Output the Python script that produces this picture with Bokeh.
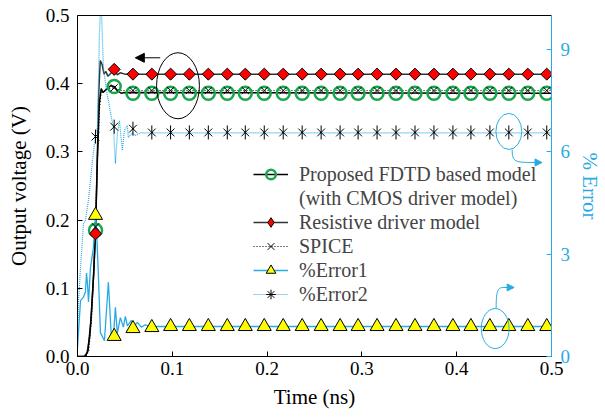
import math
from bokeh.plotting import figure
from bokeh.models import (Range1d, LinearAxis, FixedTicker, Legend, LegendItem,
                          Arrow, NormalHead, PrintfTickFormatter)
from bokeh.embed import file_html
from bokeh.resources import INLINE

# ---------------- data ----------------
x_ticks = [0.0, 0.1, 0.2, 0.3, 0.4, 0.5]
y_ticks = [0.0, 0.1, 0.2, 0.3, 0.4, 0.5]
err_ticks = [0, 3, 6, 9]

# marker sample times (ns)
t_mark = [0.019, 0.0387, 0.0585, 0.0784, 0.0982, 0.118, 0.138, 0.158, 0.177,
          0.197, 0.217, 0.237, 0.257, 0.277, 0.296, 0.316, 0.336, 0.356,
          0.376, 0.396, 0.415, 0.435, 0.455, 0.475, 0.495]

proposed_mark = [0.185, 0.396, 0.386, 0.386, 0.386, 0.386, 0.386, 0.386, 0.386,
                 0.386, 0.386, 0.386, 0.386, 0.386, 0.386, 0.386, 0.386, 0.386,
                 0.386, 0.386, 0.386, 0.386, 0.386, 0.386, 0.386]
resistive_mark = [0.18, 0.421, 0.414, 0.414, 0.414, 0.414, 0.414, 0.414, 0.414,
                  0.414, 0.414, 0.414, 0.414, 0.414, 0.414, 0.414, 0.414, 0.414,
                  0.414, 0.414, 0.414, 0.414, 0.414, 0.414, 0.414]
spice_mark = [0.19, 0.394, 0.39, 0.39, 0.39, 0.39, 0.39, 0.39, 0.39,
              0.39, 0.39, 0.39, 0.39, 0.39, 0.39, 0.39, 0.39, 0.39,
              0.39, 0.39, 0.39, 0.39, 0.39, 0.39, 0.39]
err1_mark = [4.14, 0.59, 0.82, 0.85, 0.88, 0.88, 0.88, 0.88, 0.88,
             0.88, 0.88, 0.88, 0.88, 0.88, 0.88, 0.88, 0.88, 0.88,
             0.88, 0.88, 0.88, 0.88, 0.88, 0.88, 0.88]
err2_mark = [6.45, 6.74, 6.68, 6.57, 6.57, 6.57, 6.57, 6.57, 6.57,
             6.57, 6.57, 6.57, 6.57, 6.57, 6.57, 6.57, 6.57, 6.57,
             6.57, 6.57, 6.57, 6.57, 6.57, 6.57, 6.57]

# continuous waveforms
t_res = [0, 0.007, 0.010, 0.013, 0.015, 0.017, 0.019, 0.021, 0.0225, 0.024,
         0.026, 0.028, 0.030, 0.032, 0.035, 0.0387, 0.042, 0.045, 0.05, 0.5]
v_res = [0, 0, 0.005, 0.03, 0.07, 0.12, 0.18, 0.30, 0.39, 0.434,
         0.428, 0.414, 0.418, 0.411, 0.415, 0.421, 0.413, 0.416, 0.414, 0.414]

t_prop = [0, 0.008, 0.011, 0.014, 0.017, 0.019, 0.021, 0.023, 0.025, 0.027,
          0.029, 0.032, 0.035, 0.0387, 0.042, 0.046, 0.05, 0.5]
v_prop = [0, 0, 0.008, 0.05, 0.12, 0.185, 0.29, 0.37, 0.393, 0.387,
          0.39, 0.394, 0.397, 0.396, 0.39, 0.386, 0.387, 0.386]

t_spice = [0, 0.009, 0.012, 0.015, 0.017, 0.019, 0.021, 0.023, 0.025, 0.028,
           0.032, 0.0387, 0.045, 0.5]
v_spice = [0, 0, 0.01, 0.06, 0.12, 0.19, 0.29, 0.36, 0.39, 0.388,
           0.393, 0.394, 0.39, 0.39]

t_err1 = [0, 0.0032, 0.0063, 0.0084, 0.0095, 0.0105, 0.0116, 0.0137, 0.0168,
          0.0189, 0.020, 0.022, 0.0242, 0.0284, 0.0326, 0.0357, 0.0379, 0.040,
          0.042, 0.0452, 0.0484, 0.0505, 0.0526, 0.0568, 0.0589, 0.0631,
          0.0673, 0.0715, 0.0768, 0.5]
e_err1 = [0.26, 1.64, 1.74, 1.9, 2.45, 2.15, 1.6, 2.6, 3.2,
          4.1, 3.8, 2.4, 0.7, 0.46, 2.18, 0.56, 0.6, 1.44,
          0.68, 1.14, 0.86, 1.18, 0.9, 1.06, 0.86, 1.0,
          0.86, 0.93, 0.88, 0.88]

t_err2 = [0, 0.0011, 0.0032, 0.0063, 0.0084, 0.0116, 0.0158, 0.0189, 0.021,
          0.0231, 0.0247, 0.0273, 0.0305, 0.0326, 0.0358, 0.0379, 0.040,
          0.0421, 0.0442, 0.0473, 0.0494, 0.0526, 0.0536, 0.0578, 0.061,
          0.0662, 0.5]
e_err2 = [0.6, 1.64, 2.6, 3.9, 4.0, 4.6, 5.74, 6.5, 6.72,
          9.4, 10.6, 8.48, 7.8, 7.5, 7.0, 6.74, 5.66,
          6.54, 6.92, 6.04, 6.62, 6.78, 6.42, 6.56, 6.48,
          6.56, 6.56]

# ---------------- style ----------------
FONT = "Liberation Serif"
CYAN = "#29ABE2"
GREEN = "#1AA64B"

p = figure(width=605, height=417, output_backend="svg", toolbar_location=None,
           x_range=Range1d(0, 0.5), y_range=Range1d(0, 0.5),
           min_border_left=77, min_border_right=50, min_border_top=15,
           min_border_bottom=61)
p.extra_y_ranges = {"err": Range1d(0, 10)}
p.outline_line_color = None
p.grid.visible = False


def style(ax, color="black"):
    ax.axis_line_color = color
    ax.axis_line_width = 1
    ax.major_tick_line_color = color
    ax.major_tick_in = 5
    ax.major_tick_out = 0
    ax.minor_tick_line_color = None
    ax.major_label_text_font = FONT
    ax.major_label_text_font_size = "19px"
    ax.major_label_text_color = color
    ax.axis_label_text_font = FONT
    ax.axis_label_text_font_size = "21px"
    ax.axis_label_text_font_style = "normal"
    ax.axis_label_text_color = color


xa = p.xaxis[0]
style(xa)
xa.ticker = FixedTicker(ticks=x_ticks)
xa.formatter = PrintfTickFormatter(format="%.1f")
xa.axis_label = "Time (ns)"
xa.major_label_standoff = 5
xa.axis_label_standoff = 7

ya = p.yaxis[0]
style(ya)
ya.ticker = FixedTicker(ticks=y_ticks)
ya.formatter = PrintfTickFormatter(format="%.1f")
ya.axis_label = "Output voltage (V)"
ya.major_label_standoff = 8
ya.axis_label_standoff = 12

ra = LinearAxis(y_range_name="err", axis_label="% Error",
                ticker=FixedTicker(ticks=err_ticks),
                formatter=PrintfTickFormatter(format="%d"))
style(ra, CYAN)
ra.major_label_standoff = 9
ra.axis_label_standoff = 5
p.add_layout(ra, "right")

top = LinearAxis(ticker=FixedTicker(ticks=[]), major_tick_in=0, major_tick_out=0,
                 minor_tick_in=0, minor_tick_out=0, major_label_standoff=0,
                 axis_line_color="black")
p.add_layout(top, "above")

# ---------------- lines ----------------
l_res = p.line(t_res, v_res, line_color="#333333", line_width=1.5)
l_prop = p.line(t_prop, v_prop, line_color="black", line_width=1.5)
l_spice = p.line(t_spice, v_spice, line_color="black", line_width=1.2,
                 line_dash="1 2")
l_err1 = p.line(t_err1, e_err1, y_range_name="err", line_color=CYAN,
                line_width=1.3)
l_err2 = p.line(t_err2, e_err2, y_range_name="err", line_color=CYAN,
                line_width=1.2, line_dash="1 1")

# legend proxies (tiny, hidden under the real markers; the legend draws
# them at legend size)
lg_res = p.scatter(t_mark, resistive_mark, marker="diamond", size=1,
                   line_color="black", line_width=1, fill_color="#FF0000")
lg_err2 = p.scatter(t_mark, err2_mark, y_range_name="err", marker="asterisk",
                    size=1, line_color="black", line_width=1)

# ---------------- markers ----------------
m_prop = p.scatter(t_mark, proposed_mark, marker="circle", size=13,
                   line_color=GREEN, line_width=2.5, fill_color=None)
m_res = p.scatter(t_mark, resistive_mark, marker="square", size=8.5,
                  angle=math.pi / 4, line_color="black", line_width=1,
                  fill_color="#FF0000")
m_spice = p.scatter(t_mark, spice_mark, marker="x", size=10,
                    line_color="black", line_width=1)
m_err1 = p.scatter(t_mark, err1_mark, y_range_name="err", marker="triangle",
                   size=14, line_color="black", line_width=1,
                   fill_color="#FFFF00")
m_err2x = p.scatter(t_mark, err2_mark, y_range_name="err", marker="x",
                    size=11, line_color="black", line_width=1)
m_err2v = p.scatter(t_mark, err2_mark, y_range_name="err", marker="dash",
                    size=14, angle=math.pi / 2, line_color="black",
                    line_width=1)

dummy = p.line([], [], line_alpha=0)

# ---------------- annotations ----------------
p.ellipse(x=0.106, y=0.397, width=0.0452, height=0.0968, fill_color=None,
          line_color="black", line_width=1)
p.add_layout(Arrow(end=NormalHead(size=9, fill_color="black", line_color="black"),
                   x_start=0.0873, y_start=0.438, x_end=0.061, y_end=0.438,
                   line_color="black", line_width=1))

p.ellipse(x=0.455, y=0.33, width=0.0273, height=0.0528, fill_color=None,
          line_color=CYAN, line_width=1)
p.bezier(x0=[0.4585], y0=[0.3035], x1=[0.4816], y1=[0.2845],
         cx0=[0.4585], cy0=[0.2845], cx1=[0.462], cy1=[0.2845],
         line_color=CYAN, line_width=1)
p.add_layout(Arrow(end=NormalHead(size=7, fill_color=CYAN, line_color=CYAN),
                   x_start=0.48, y_start=0.2845, x_end=0.49, y_end=0.2845,
                   line_color=CYAN, line_width=1))

p.ellipse(x=0.4406, y=0.041, width=0.0294, height=0.0587, fill_color=None,
          line_color=CYAN, line_width=1)
p.bezier(x0=[0.4416], y0=[0.0704], x1=[0.4511], y1=[0.1012],
         cx0=[0.4416], cy0=[0.1012], cx1=[0.4440], cy1=[0.1012],
         line_color=CYAN, line_width=1)
p.add_layout(Arrow(end=NormalHead(size=7, fill_color=CYAN, line_color=CYAN),
                   x_start=0.45, y_start=0.1012, x_end=0.4606, y_end=0.1012,
                   line_color=CYAN, line_width=1))

# ---------------- legend ----------------
legend = Legend(items=[
    LegendItem(label="Proposed FDTD based model", renderers=[l_prop, m_prop]),
    LegendItem(label="(with CMOS driver model)", renderers=[dummy]),
    LegendItem(label="Resistive driver model", renderers=[l_res, lg_res]),
    LegendItem(label="SPICE", renderers=[l_spice, m_spice]),
    LegendItem(label="%Error1", renderers=[l_err1, m_err1]),
    LegendItem(label="%Error2", renderers=[l_err2, lg_err2]),
], location=(176, 50))
legend.background_fill_alpha = 0
legend.border_line_color = None
legend.label_text_font = FONT
legend.label_text_font_size = "20px"
legend.glyph_width = 35
legend.glyph_height = 24
legend.label_height = 20
legend.label_standoff = 11
legend.spacing = 0
legend.padding = 0
legend.margin = 0
p.add_layout(legend)

open("out.html", "w").write(file_html(p, INLINE))
